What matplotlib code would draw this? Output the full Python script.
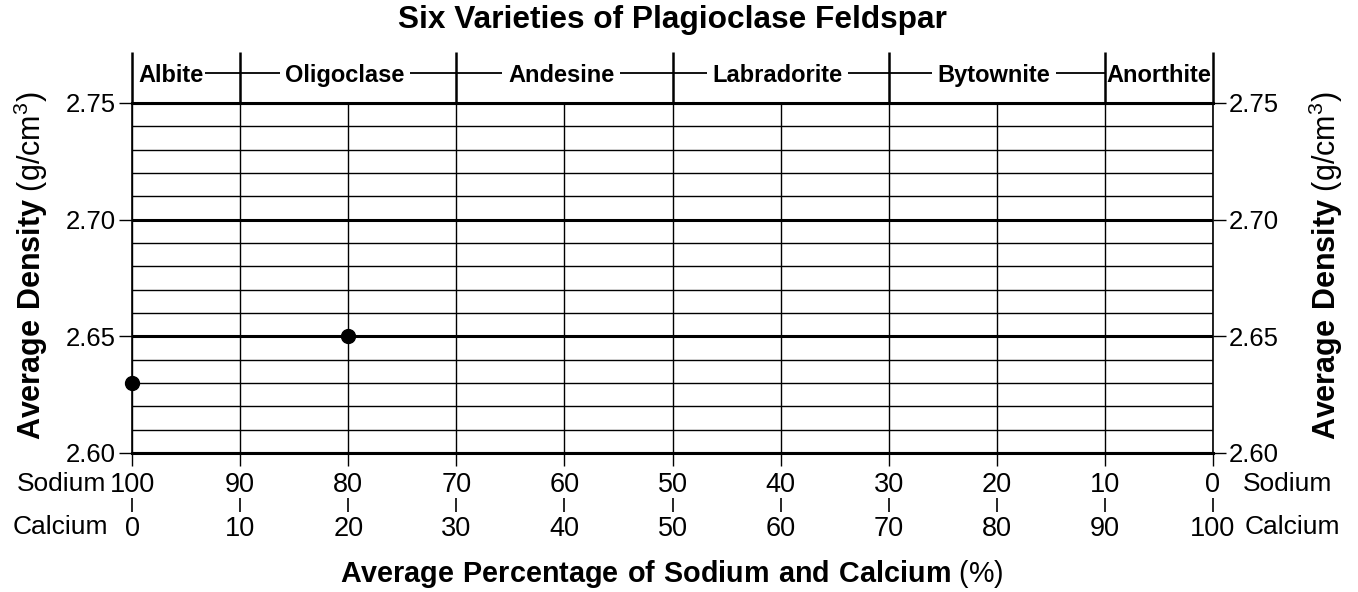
import matplotlib
matplotlib.use("Agg")
import matplotlib.pyplot as plt
import numpy as np

plt.rcParams['font.family'] = ['Liberation Sans', 'DejaVu Sans']
plt.rcParams['mathtext.fontset'] = 'custom'
plt.rcParams['mathtext.rm'] = 'Liberation Sans'
plt.rcParams['mathtext.bf'] = 'Liberation Sans:bold'

# data
calcium = [0, 20]
density = [2.63, 2.65]

calcium_ticks = [0, 10, 20, 30, 40, 50, 60, 70, 80, 90, 100]
sodium_ticks = [100 - c for c in calcium_ticks]
density_ticks = [2.60, 2.65, 2.70, 2.75]

varieties = ['Albite', 'Oligoclase', 'Andesine', 'Labradorite', 'Bytownite', 'Anorthite']
bounds = [0, 10, 30, 50, 70, 90, 100]

fig = plt.figure(figsize=(13.58, 5.92), dpi=100)
ax = fig.add_axes([132/1358, 1 - 453/592, 1081/1358, 350/592])

ax.set_xlim(0, 100)
ax.set_ylim(2.60, 2.75)

# grid
ax.set_xticks(calcium_ticks)
ax.set_xticklabels([str(s) for s in sodium_ticks], fontsize=19.5)
ax.set_yticks(density_ticks)
ax.set_yticklabels(['%.2f' % d for d in density_ticks], fontsize=18.5)
ax.set_yticks(np.arange(2.60, 2.7501, 0.01), minor=True)
ax.tick_params(axis='y', which='minor', length=0)
ax.tick_params(axis='y', which='major', length=9.5, width=1, pad=2,
               right=True, labelright=True)
ax.tick_params(axis='x', which='major', length=9.5, width=1, pad=4)
ax.grid(True, axis='y', which='major', color='black', lw=2.2, zorder=1)
ax.grid(True, axis='y', which='minor', color='black', lw=1.0, zorder=1)
ax.grid(True, axis='x', which='major', color='black', lw=1.0, zorder=1)
ax.set_axisbelow(True)
for s in ['left', 'right']:
    ax.spines[s].set_linewidth(1.2)
ax.spines['top'].set_linewidth(2.2)
ax.spines['bottom'].set_linewidth(2.2)

# calcium scale below
sec = ax.secondary_xaxis(-45/350)
sec.set_xticks(calcium_ticks)
sec.set_xticklabels([str(c) for c in calcium_ticks], fontsize=19.5)
sec.tick_params(length=10, width=1.2, pad=3)
sec.spines['bottom'].set_visible(False)

# header with variety names
trans = ax.get_xaxis_transform()
top = 1 + 51/350
yh = 1 + 30/350
ax.vlines(bounds, 1, top, transform=trans, colors='black', lw=1.8, clip_on=False)
for i, name in enumerate(varieties):
    x0, x1 = bounds[i], bounds[i + 1]
    if name == 'Albite':
        ax.plot([5, x1], [yh, yh], transform=trans, color='black', lw=1.3, clip_on=False)
        ax.text(x0 + 0.55, yh, name, transform=trans, ha='left', va='center_baseline',
                fontsize=17, fontweight='bold', zorder=5,
                bbox=dict(facecolor='white', edgecolor='none', pad=1.5))
    elif name == 'Anorthite':
        ax.text((x0 + x1) / 2, yh, name, transform=trans, ha='center', va='center_baseline',
                fontsize=17, fontweight='bold', zorder=5)
    else:
        ax.plot([x0, x1], [yh, yh], transform=trans, color='black', lw=1.3, clip_on=False)
        ax.text((x0 + x1) / 2 - 0.3, yh, name, transform=trans, ha='center', va='center_baseline',
                fontsize=17, fontweight='bold', zorder=5,
                bbox=dict(facecolor='white', edgecolor='none', pad=4))

# points
ax.plot(calcium, density, 'o', color='black', markersize=10, clip_on=False, zorder=6)

# side labels for the two scales
fig.text(106/1358, 1 - 484/592, 'Sodium', ha='right', va='center', fontsize=19)
fig.text(108/1358, 1 - 527/592, 'Calcium', ha='right', va='center', fontsize=19)
fig.text(1243/1358, 1 - 484/592, 'Sodium', ha='left', va='center', fontsize=19)
fig.text(1245/1358, 1 - 527/592, 'Calcium', ha='left', va='center', fontsize=19)

ylab = r'$\bf{Average\ Density}$ (g/cm$^3$)'
fig.text(31/1358, 1 - 266/592, ylab, rotation=90, ha='center', va='center', fontsize=22)
fig.text(1326/1358, 1 - 266/592, ylab, rotation=90, ha='center', va='center', fontsize=22)

fig.text(672/1358, 1 - 582/592, r'$\bf{Average\ Percentage\ of\ Sodium\ and\ Calcium}$ (%)',
         ha='center', va='baseline', fontsize=20.7)
fig.text(672/1358, 1 - 20/592, 'Six Varieties of Plagioclase Feldspar',
         ha='center', va='center', fontsize=22.8, fontweight='bold')

fig.savefig('out.png', dpi=100)
